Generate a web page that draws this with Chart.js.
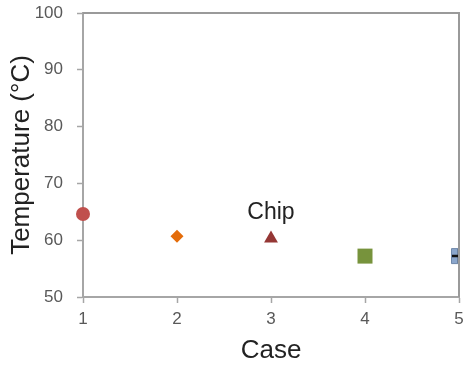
<!DOCTYPE html>
<html>
<head>
<meta charset="utf-8">
<script src="https://cdn.jsdelivr.net/npm/chart.js@4/dist/chart.umd.min.js"></script>
<style>
  html, body { margin: 0; padding: 0; background: #fff; }
  #wrap { width: 464px; height: 366px; }
</style>
</head>
<body>
<div id="wrap"><canvas id="c" width="464" height="366"></canvas></div>
<script>
const cases = [1, 2, 3, 4, 5];
const temperatures = [64.6, 60.7, 60.3, 57.2, 57.2];
const yTicks = [50, 60, 70, 80, 90, 100];
const xTitle = 'Case';
const yTitle = 'Temperature (°C)';
const annotationText = 'Chip';
const annotationAt = { x: 3, y: 64.8 };

const FONT = "'Liberation Sans', Arial, sans-serif";
const AXIS = '#a6a6a6';

function pt(i) { return [{ x: cases[i], y: temperatures[i] }]; }
const clipRight = { left: false, top: false, right: 0, bottom: false };

const datasets = [
  { data: pt(0), order: 1, pointStyle: 'circle', pointRadius: 7, pointBackgroundColor: '#c0504d', pointBorderWidth: 0, clip: false },
  { data: pt(1), order: 1, pointStyle: 'rectRot', pointRadius: 6.5, pointBackgroundColor: '#e46c0a', pointBorderWidth: 0, clip: false },
  { data: pt(2), order: 1, pointStyle: 'triangle', pointRadius: 8, pointBackgroundColor: '#953735', pointBorderWidth: 0, clip: false },
  { data: pt(3), order: 1, pointStyle: 'rect', pointRadius: 10.6, pointBackgroundColor: '#77933c', pointBorderWidth: 0, clip: false },
  { data: pt(4), order: 1, pointStyle: 'rect', pointRadius: 10.6, pointBackgroundColor: '#8aa6cc', pointBorderColor: '#6f88aa', pointBorderWidth: 1, clip: clipRight },
  { data: pt(4), order: 0, pointStyle: 'cross', pointRadius: 7, pointBackgroundColor: '#111', pointBorderColor: '#111', pointBorderWidth: 2.5, clip: clipRight }
];

const framePlugin = {
  id: 'frame',
  afterDatasetsDraw(chart) {
    const { ctx, chartArea: a } = chart;
    ctx.save();
    ctx.strokeStyle = '#9a9a9a';
    ctx.lineWidth = 2;
    ctx.beginPath();
    ctx.moveTo(a.left, a.top);
    ctx.lineTo(a.right, a.top);
    ctx.lineTo(a.right, a.bottom);
    ctx.stroke();
    ctx.restore();
  }
};

const annotationPlugin = {
  id: 'annot',
  afterDatasetsDraw(chart) {
    const { ctx, scales } = chart;
    const x = scales.x.getPixelForValue(annotationAt.x);
    const y = scales.y.getPixelForValue(annotationAt.y);
    ctx.save();
    ctx.fillStyle = '#222';
    ctx.font = "23px " + FONT;
    ctx.textAlign = 'center';
    ctx.textBaseline = 'middle';
    ctx.fillText(annotationText, x, y);
    ctx.restore();
  }
};

new Chart(document.getElementById('c'), {
  type: 'scatter',
  data: { datasets },
  options: {
    responsive: false,
    animation: false,
    layout: { autoPadding: false, padding: { left: 6, right: 5, top: 13, bottom: 0 } },
    plugins: { legend: { display: false }, tooltip: { enabled: false } },
    scales: {
      x: {
        type: 'linear', min: 1, max: 5,
        afterFit(s) { s.height = 69; s.paddingLeft = 0; s.paddingRight = 0; },
        afterBuildTicks(s) { s.ticks = cases.map(v => ({ value: v })); },
        ticks: { color: '#595959', font: { family: FONT, size: 17 }, padding: 6, maxRotation: 0 },
        grid: { display: true, drawOnChartArea: false, drawTicks: true, tickLength: 6, color: AXIS, tickWidth: 1.5 },
        border: { display: true, color: AXIS, width: 2 },
        title: { display: true, text: xTitle, color: '#222', font: { family: FONT, size: 26 }, padding: 0 }
      },
      y: {
        type: 'linear', min: 50, max: 100,
        afterFit(s) { s.width = 77; s.paddingTop = 0; s.paddingBottom = 0; },
        afterBuildTicks(s) { s.ticks = yTicks.map(v => ({ value: v })); },
        ticks: { color: '#595959', font: { family: FONT, size: 17 }, padding: 14 },
        grid: { display: true, drawOnChartArea: false, drawTicks: true, tickLength: 6, color: AXIS, tickWidth: 1.5 },
        border: { display: true, color: AXIS, width: 2 },
        title: { display: true, text: yTitle, color: '#222', font: { family: FONT, size: 26 }, padding: 0 }
      }
    }
  },
  plugins: [framePlugin, annotationPlugin]
});
</script>
</body>
</html>
